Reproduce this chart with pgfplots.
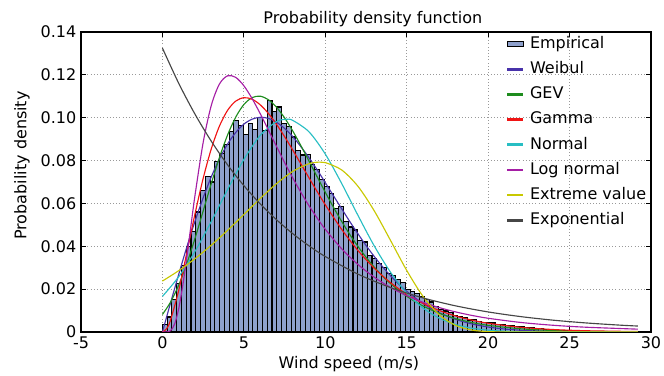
\documentclass[border=0pt]{standalone}
\usepackage{pgfplots}
\pgfplotsset{compat=1.18}
\usepackage{fontspec}
\setmainfont{DejaVu Sans}
\definecolor{barfill}{RGB}{142,160,204}
\definecolor{cweib}{RGB}{72,50,170}
\definecolor{cgev}{RGB}{30,140,30}
\definecolor{cgam}{RGB}{240,20,20}
\definecolor{cnorm}{RGB}{40,190,195}
\definecolor{clogn}{RGB}{165,30,165}
\definecolor{cext}{RGB}{200,200,0}
\definecolor{cexp}{RGB}{70,70,70}
\pgfplotsset{
  limg/.style={legend image code/.code={\fill[fill=#1] (0pt,-0.55pt) rectangle (11.25pt,0.55pt);}},
}
\begin{document}
\begin{tikzpicture}
\begin{axis}[
  scale only axis, width=427.5pt, height=225pt,
  xmin=-5, xmax=30, ymin=0, ymax=0.14,
  xtick={-5,0,5,10,15,20,25,30},
  xticklabels={-5,0,5,10,15,20,25,30},
  ytick={0,0.02,0.04,0.06,0.08,0.10,0.12,0.14},
  yticklabels={0\hspace{6.5pt},0.02,0.04,0.06,0.08,0.10,0.12,0.14},
  tick align=inside, major tick length=4pt,
  grid=major, grid style={dotted, line width=0.6pt, gray!80},
  axis line style={line width=0.9pt},
  tick style={black, line width=0.6pt},
  /pgf/number format/assume math mode=true,
  tick label style={font=\fontsize{12}{14}\selectfont},
  label style={font=\fontsize{12}{14}\selectfont},
  every axis title shift=0pt,
  title style={font=\fontsize{12}{14}\selectfont, at={(axis description cs:0.512,1)}, anchor=south},
  title={Probability density function},
  xlabel={Wind speed (m/s)},
  ylabel={Probability density},
  xlabel style={at={(axis description cs:0.47,-0.1067)}, anchor=center},
  ylabel style={at={(axis description cs:-0.1035,0.555)}, anchor=center},
  legend cell align=left,
  legend style={draw=none, fill=none, at={(axis description cs:0.7468,0.9858)}, anchor=north west,
    inner sep=0pt, row sep=7.36pt, column sep=4.5pt,
    font=\fontsize{12}{14}\selectfont,
    nodes={inner sep=0pt, text height=9pt, text depth=2.5pt}},
]
\addplot[ybar interval, fill=barfill, draw=black, line width=0.8pt,
  legend image code/.code={\draw[fill=barfill, draw=black, line width=0.8pt] (0pt,-1.7pt) rectangle (12pt,1.7pt);}]
coordinates {(0,0.0035) (0.2925,0.007) (0.585,0.015) (0.8775,0.0225) (1.17,0.031) (1.4625,0.040) (1.755,0.047) (2.0475,0.056) (2.34,0.066) (2.6325,0.0725) (2.925,0.070) (3.2175,0.0795) (3.51,0.0834) (3.8025,0.0873) (4.095,0.0935) (4.3875,0.0985) (4.68,0.0965) (4.9725,0.092) (5.265,0.0975) (5.5575,0.0945) (5.85,0.100) (6.1425,0.094) (6.435,0.108) (6.7275,0.1027) (7.02,0.105) (7.3125,0.0975) (7.605,0.096) (7.8975,0.091) (8.19,0.0845) (8.4825,0.0826) (8.775,0.083) (9.0675,0.078) (9.36,0.076) (9.6525,0.071) (9.945,0.068) (10.2375,0.0645) (10.53,0.0575) (10.8225,0.0585) (11.115,0.0515) (11.4075,0.049) (11.7,0.0476) (11.9925,0.0425) (12.285,0.042) (12.5775,0.0355) (12.87,0.0345) (13.1625,0.032) (13.455,0.030) (13.7475,0.0275) (14.04,0.0262) (14.3325,0.0243) (14.625,0.023) (14.9175,0.0198) (15.21,0.019) (15.5025,0.0178) (15.795,0.0165) (16.0875,0.015) (16.38,0.014) (16.6725,0.0118) (16.965,0.0103) (17.2575,0.0098) (17.55,0.0089) (17.8425,0.0079) (18.135,0.0072) (18.4275,0.0066) (18.72,0.0056) (19.0125,0.0058) (19.305,0.0049) (19.5975,0.0046) (19.89,0.0045) (20.1825,0.0042) (20.475,0.0035) (20.7675,0.0033) (21.06,0.003) (21.3525,0.0029) (21.645,0.0024) (21.9375,0.0026) (22.23,0.0021) (22.5225,0.0019) (22.815,0.0016) (23.1075,0.0017) (23.4,0.0013) (23.6925,0.0011) (23.985,0.0012) (24.2775,0.0009) (24.57,0.0008) (24.8625,0.0007) (25.155,0.0007) (25.4475,0.0005) (25.74,0.0005) (26.0325,0.0004) (26.325,0.0003) (26.6175,0.0003) (26.91,0.0002) (27.2025,0.0002) (27.495,0.0001) (27.7875,0.0002) (28.08,0.0001) (28.3725,0.0001) (28.665,0.00005) (28.9575,0.00005) (29.25,0)};
\addlegendentry{Empirical}
\addplot[cweib, line width=0.85pt, smooth, no markers, limg=cweib] coordinates {(0,0) (0.25,0.0068) (0.5,0.0136) (1,0.0269) (1.5,0.0397) (2,0.0517) (2.5,0.0626) (3,0.0724) (3.5,0.0808) (4,0.0877) (4.5,0.0931) (5,0.0970) (5.5,0.0993) (6,0.1002) (6.5,0.0997) (7,0.0979) (7.5,0.0950) (8,0.0912) (8.5,0.0865) (9,0.0813) (9.5,0.0757) (10,0.0697) (10.5,0.0636) (11,0.0576) (11.5,0.0516) (12,0.0459) (12.5,0.0404) (13,0.0353) (13.5,0.0306) (14,0.0263) (14.5,0.0224) (15,0.0190) (16,0.01327) (17,0.00899) (18,0.00590) (19,0.00376) (20,0.00232) (21,0.00139) (22,0.00081) (23,0.00046) (24,0.00025) (25,0.00013) (26,0.00007) (27,0.00003) (28,0.00001) (29.2,0)};
\addlegendentry{Weibul}
\addplot[cgev, line width=0.85pt, smooth, no markers, limg=cgev] coordinates {(0,0.00818) (0.5,0.01395) (1,0.02190) (1.5,0.03198) (2,0.04369) (2.5,0.05643) (3,0.06928) (3.5,0.08141) (4,0.09193) (4.5,0.10027) (5,0.10613) (5.5,0.10936) (6,0.11004) (6.5,0.10843) (7,0.10493) (7.5,0.09994) (8,0.09384) (8.5,0.08700) (9,0.07977) (9.5,0.07244) (10,0.06521) (10.5,0.05825) (11,0.05167) (11.5,0.04557) (12,0.03999) (12.5,0.03491) (13,0.03033) (13.5,0.02624) (14,0.02263) (15,0.01667) (16,0.01213) (17,0.00874) (18,0.00624) (19,0.00442) (20,0.00310) (22,0.00149) (24,0.00070) (26,0.00031) (29.2,0.00008)};
\addlegendentry{GEV}
\addplot[cgam, line width=0.85pt, smooth, no markers, limg=cgam] coordinates {(0,0) (0.25,0.00144) (0.5,0.00557) (1,0.01944) (1.5,0.03705) (2,0.05514) (2.5,0.07164) (3,0.08547) (3.5,0.09608) (4,0.10344) (4.5,0.10775) (5,0.10934) (5.5,0.10864) (6,0.10606) (6.5,0.10204) (7,0.09698) (7.5,0.09118) (8,0.08493) (8.5,0.07847) (9,0.07195) (9.5,0.06555) (10,0.05937) (11,0.04797) (12,0.03809) (13,0.02981) (14,0.02305) (15,0.01763) (16,0.01336) (17,0.01003) (18,0.00748) (19,0.00554) (20,0.00408) (22,0.00218) (24,0.00115) (26,0.00059) (29.2,0.00020)};
\addlegendentry{Gamma}
\addplot[cnorm, line width=0.85pt, smooth, no markers, limg=cnorm] coordinates {(0,0.01661) (1,0.02578) (2,0.03761) (3,0.05157) (4,0.06646) (5,0.08051) (6,0.09169) (7,0.09814) (7.6,0.09924) (8,0.09875) (9,0.09341) (10,0.08304) (11,0.06940) (12,0.05452) (13,0.04026) (14,0.02795) (15,0.01823) (16,0.01118) (17,0.00645) (18,0.00350) (19,0.00178) (20,0.00085) (21,0.00038) (22,0.00016) (24,0.00002) (26,0) (29.2,0)};
\addlegendentry{Normal}
\addplot[clogn, line width=0.85pt, smooth, no markers, limg=clogn] coordinates {(0,0) (0.25,0.00001) (0.5,0.00060) (0.75,0.00375) (1,0.01090) (1.25,0.02178) (1.5,0.03515) (1.75,0.04954) (2,0.06375) (2.5,0.08837) (3,0.10572) (3.5,0.11571) (4,0.11955) (4.5,0.11882) (5,0.11492) (5.5,0.10901) (6,0.10195) (6.5,0.09435) (7,0.08665) (7.5,0.07911) (8,0.07192) (8.5,0.06517) (9,0.05892) (9.5,0.05318) (10,0.04794) (11,0.03889) (12,0.03154) (13,0.02560) (14,0.02081) (15,0.01697) (16,0.01387) (17,0.01139) (18,0.00937) (19,0.00774) (20,0.00641) (22,0.00445) (24,0.00313) (26,0.00223) (29.2,0.00132)};
\addlegendentry{Log normal}
\addplot[cext, line width=0.85pt, smooth, no markers, limg=cext] coordinates {(0,0.02377) (1,0.02862) (2,0.03420) (3,0.04050) (4,0.04744) (5,0.05481) (6,0.06224) (7,0.06920) (8,0.07494) (9,0.07855) (9.65,0.07929) (10,0.07906) (11,0.07566) (12,0.06804) (13,0.05663) (14,0.04282) (15,0.02874) (16,0.01664) (17,0.00802) (18,0.00308) (19,0.00089) (20,0.00018) (21,0.00002) (22,0) (24,0) (26,0) (29.2,0)};
\addlegendentry{Extreme value}
\addplot[cexp, line width=0.85pt, smooth, no markers, limg=cexp] coordinates {(0,0.1325) (1,0.11606) (2,0.10165) (3,0.08904) (4,0.07799) (5,0.06831) (6,0.05983) (7,0.05241) (8,0.04590) (9,0.04021) (10,0.03522) (12,0.02702) (14,0.02073) (16,0.01590) (18,0.01220) (20,0.00936) (22,0.00718) (24,0.00551) (26,0.00423) (28,0.00324) (29.2,0.00277)};
\addlegendentry{Exponential}
\end{axis}
\pgfresetboundingbox
\path ([xshift=-60.75pt,yshift=-33pt]current axis.south west) rectangle ([xshift=9.75pt,yshift=24pt]current axis.north east);
\end{tikzpicture}
\end{document}
